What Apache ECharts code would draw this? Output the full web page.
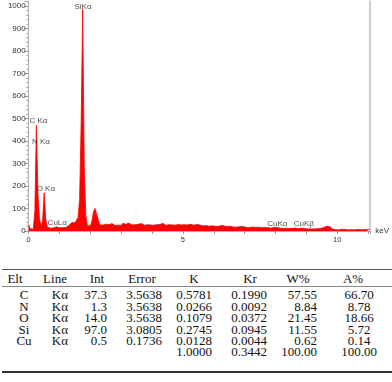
<!DOCTYPE html>
<html>
<head>
<meta charset="utf-8">
<script src="https://cdn.jsdelivr.net/npm/echarts@6/dist/echarts.min.js"></script>
<style>
  html, body { margin: 0; padding: 0; background: #fff; }
  #page { position: relative; width: 392px; height: 382px; overflow: hidden; }
  #chart { position: absolute; left: 0; top: 0; width: 392px; height: 255px; }
  .cell { position: absolute; font-family: 'Liberation Serif', 'Times New Roman', serif; font-size: 13px; color: #111; white-space: nowrap; line-height: 13px; }
  .rule { position: absolute; left: 2px; width: 390px; }
</style>
</head>
<body>
<div id="page">
  <div id="chart"></div>
</div>
<script>
// EDS spectrum, counts per 0.05 keV bin starting at 0 keV
const binWidth = 0.05;
const counts = [
  // 0.00 - 0.95
  28, 10, 4, 8, 90, 470, 165, 55, 22, 45, 170, 55, 18, 14, 12, 16, 13, 17, 19, 15,
  // 1.00 - 1.95
  14, 17, 15, 19, 16, 21, 24, 30, 38, 44, 36, 42, 60, 140, 480, 985, 290, 70, 24, 16,
  // 2.00 - 2.95
  22, 45, 85, 100, 78, 52, 28, 20, 26, 22, 30, 24, 28, 25, 33, 27, 24, 31, 26, 29,
  // 3.00 - 3.95
  25, 34, 28, 30, 26, 35, 29, 27, 32, 28, 36, 30, 27, 33, 29, 26, 31, 28, 34, 27,
  // 4.00 - 4.95
  30, 26, 33, 28, 36, 29, 27, 34, 30, 25, 32, 28, 35, 27, 30, 26, 33, 29, 31, 27,
  // 5.00 - 5.95
  24, 28, 23, 27, 25, 30, 22, 26, 24, 29, 23, 27, 25, 22, 28, 24, 26, 21, 25, 23,
  // 6.00 - 6.95
  24, 21, 26, 20, 23, 25, 19, 22, 24, 20, 18, 21, 19, 17, 20, 18, 16, 19, 17, 20,
  // 7.00 - 7.95
  18, 16, 19, 15, 17, 18, 14, 16, 15, 17, 13, 15, 14, 16, 13, 15, 14, 12, 15, 16,
  // 8.00 - 8.95
  18, 16, 13, 12, 14, 11, 13, 12, 14, 11, 13, 12, 11, 13, 12, 10, 12, 13, 14, 11,
  // 9.00 - 9.95
  10, 9, 11, 9, 10, 9, 11, 10, 12, 11, 13, 15, 19, 21, 18, 20, 14, 9, 7, 6,
  // 10.00 - 11.05
  7, 5, 6, 8, 5, 7, 6, 5, 7, 6, 8, 5, 6, 7, 5, 6, 8, 6, 5, 7,
  6, 7
];

// peak labels: name, energy (keV), label height (counts)
const peakNames = ['SiKα', 'C Kα', 'N Kα', 'O Kα', 'CuLα', 'CuKα', 'CuKβ'];
const peakEnergy = [1.76, 0.315, 0.395, 0.556, 0.926, 8.06, 8.92];
const peakLabelY = [996, 489, 396, 187, 36, 33, 33];

// quantification table
const tableHead = ['Elt', 'Line', 'Int', 'Error', 'K', 'Kr', 'W%', 'A%'];
const elements = ['C', 'N', 'O', 'Si', 'Cu', ''];
const lines = ['Kα', 'Kα', 'Kα', 'Kα', 'Kα', ''];
const intVals = ['37.3', '1.3', '14.0', '97.0', '0.5', ''];
const errors = ['3.5638', '3.5638', '3.5638', '3.0805', '0.1736', ''];
const kVals = ['0.5781', '0.0266', '0.1079', '0.2745', '0.0128', '1.0000'];
const krVals = ['0.1990', '0.0092', '0.0372', '0.0945', '0.0044', '0.3442'];
const wPct = ['57.55', '8.84', '21.45', '11.55', '0.62', '100.00'];
const aPct = ['66.70', '8.78', '18.66', '5.72', '0.14', '100.00'];

const chart = echarts.init(document.getElementById('chart'), null, { renderer: 'canvas' });
const font = "'Liberation Sans', Arial, sans-serif";

chart.setOption({
  animation: false,
  backgroundColor: '#fff',
  grid: { left: 28.7, right: 19, top: 1.5, bottom: 24 },
  xAxis: {
    type: 'value',
    min: 0,
    max: 11.07,
    interval: 1,
    name: 'keV',
    nameLocation: 'end',
    nameGap: 5,
    nameTextStyle: { fontFamily: font, fontSize: 8, color: '#333', padding: [0, 0, 5, 0] },
    axisLine: { lineStyle: { color: '#b4b4b4', width: 1 } },
    axisTick: { length: 3, lineStyle: { color: '#999' } },
    axisLabel: {
      fontFamily: font, fontSize: 7.5, color: '#333', margin: 5,
      formatter: v => (Math.abs(v % 5) < 1e-6 ? String(v) : '')
    },
    splitLine: { show: false }
  },
  yAxis: [{
    type: 'value',
    min: 0,
    max: 1020,
    interval: 100,
    axisLine: { show: true, lineStyle: { color: '#aaa', width: 1 } },
    axisTick: { show: true, length: 4, lineStyle: { color: '#999' } },
    minorTick: { show: true, splitNumber: 5, length: 2.5, lineStyle: { color: '#b0b0b0' } },
    axisLabel: {
      fontFamily: font, fontSize: 8, color: '#333', margin: 3,
      formatter: v => (v <= 1000 ? String(v) : '')
    },
    splitLine: { show: false }
  }, {
    type: 'value',
    position: 'right',
    min: 0,
    max: 1020,
    axisLine: { show: true, lineStyle: { color: '#c9ced3', width: 2 } },
    axisTick: { show: false },
    axisLabel: { show: false },
    splitLine: { show: false }
  }],
  series: [{
    name: 'spectrum',
    type: 'line',
    showSymbol: false,
    data: counts.map((c, i) => [+(i * binWidth).toFixed(2), c]),
    lineStyle: { color: '#ff0000', width: 0.8 },
    areaStyle: { color: '#ff0000', opacity: 1 },
    z: 2
  }, {
    name: 'peaks',
    type: 'scatter',
    symbolSize: 0,
    data: peakNames.map((n, i) => ({ name: n, value: [peakEnergy[i], peakLabelY[i]] })),
    label: {
      show: true, position: 'inside', formatter: p => p.name,
      fontFamily: font, fontSize: 8, color: '#222'
    },
    z: 5
  }]
});

// table below the spectrum
const page = document.getElementById('page');
const cols = [
  { head: 15, at: 24, align: 'center', vals: elements },
  { head: 55, at: 68, align: 'right', vals: lines },
  { head: 97, at: 107, align: 'right', vals: intVals },
  { head: 142, at: 162, align: 'right', vals: errors },
  { head: 194, at: 194, align: 'center', vals: kVals },
  { head: 250, at: 249, align: 'center', vals: krVals },
  { head: 298, at: 317, align: 'right', vals: wPct },
  { head: 353, at: 359, align: 'center', vals: aPct }
];
const headY = 277.5, firstRowY = 294.3, rowStep = 11.4;

function addCell(text, x, y, align) {
  const d = document.createElement('div');
  d.className = 'cell';
  d.textContent = text;
  d.style.left = x + 'px';
  d.style.top = y + 'px';
  const tx = align === 'right' ? '-100%' : '-50%';
  d.style.transform = 'translate(' + tx + ', -50%)';
  page.appendChild(d);
}
function addRule(y, h, color) {
  const r = document.createElement('div');
  r.className = 'rule';
  r.style.top = y + 'px';
  r.style.height = h + 'px';
  r.style.background = color;
  page.appendChild(r);
}

cols.forEach((c, ci) => {
  addCell(tableHead[ci], c.head, headY, 'center');
  c.vals.forEach((v, ri) => {
    if (v !== '') addCell(v, c.at, firstRowY + ri * rowStep, c.align);
  });
});
addRule(268.5, 1.5, '#555');
addRule(286, 1, '#888');
addRule(371, 1.5, '#333');
</script>
</body>
</html>
